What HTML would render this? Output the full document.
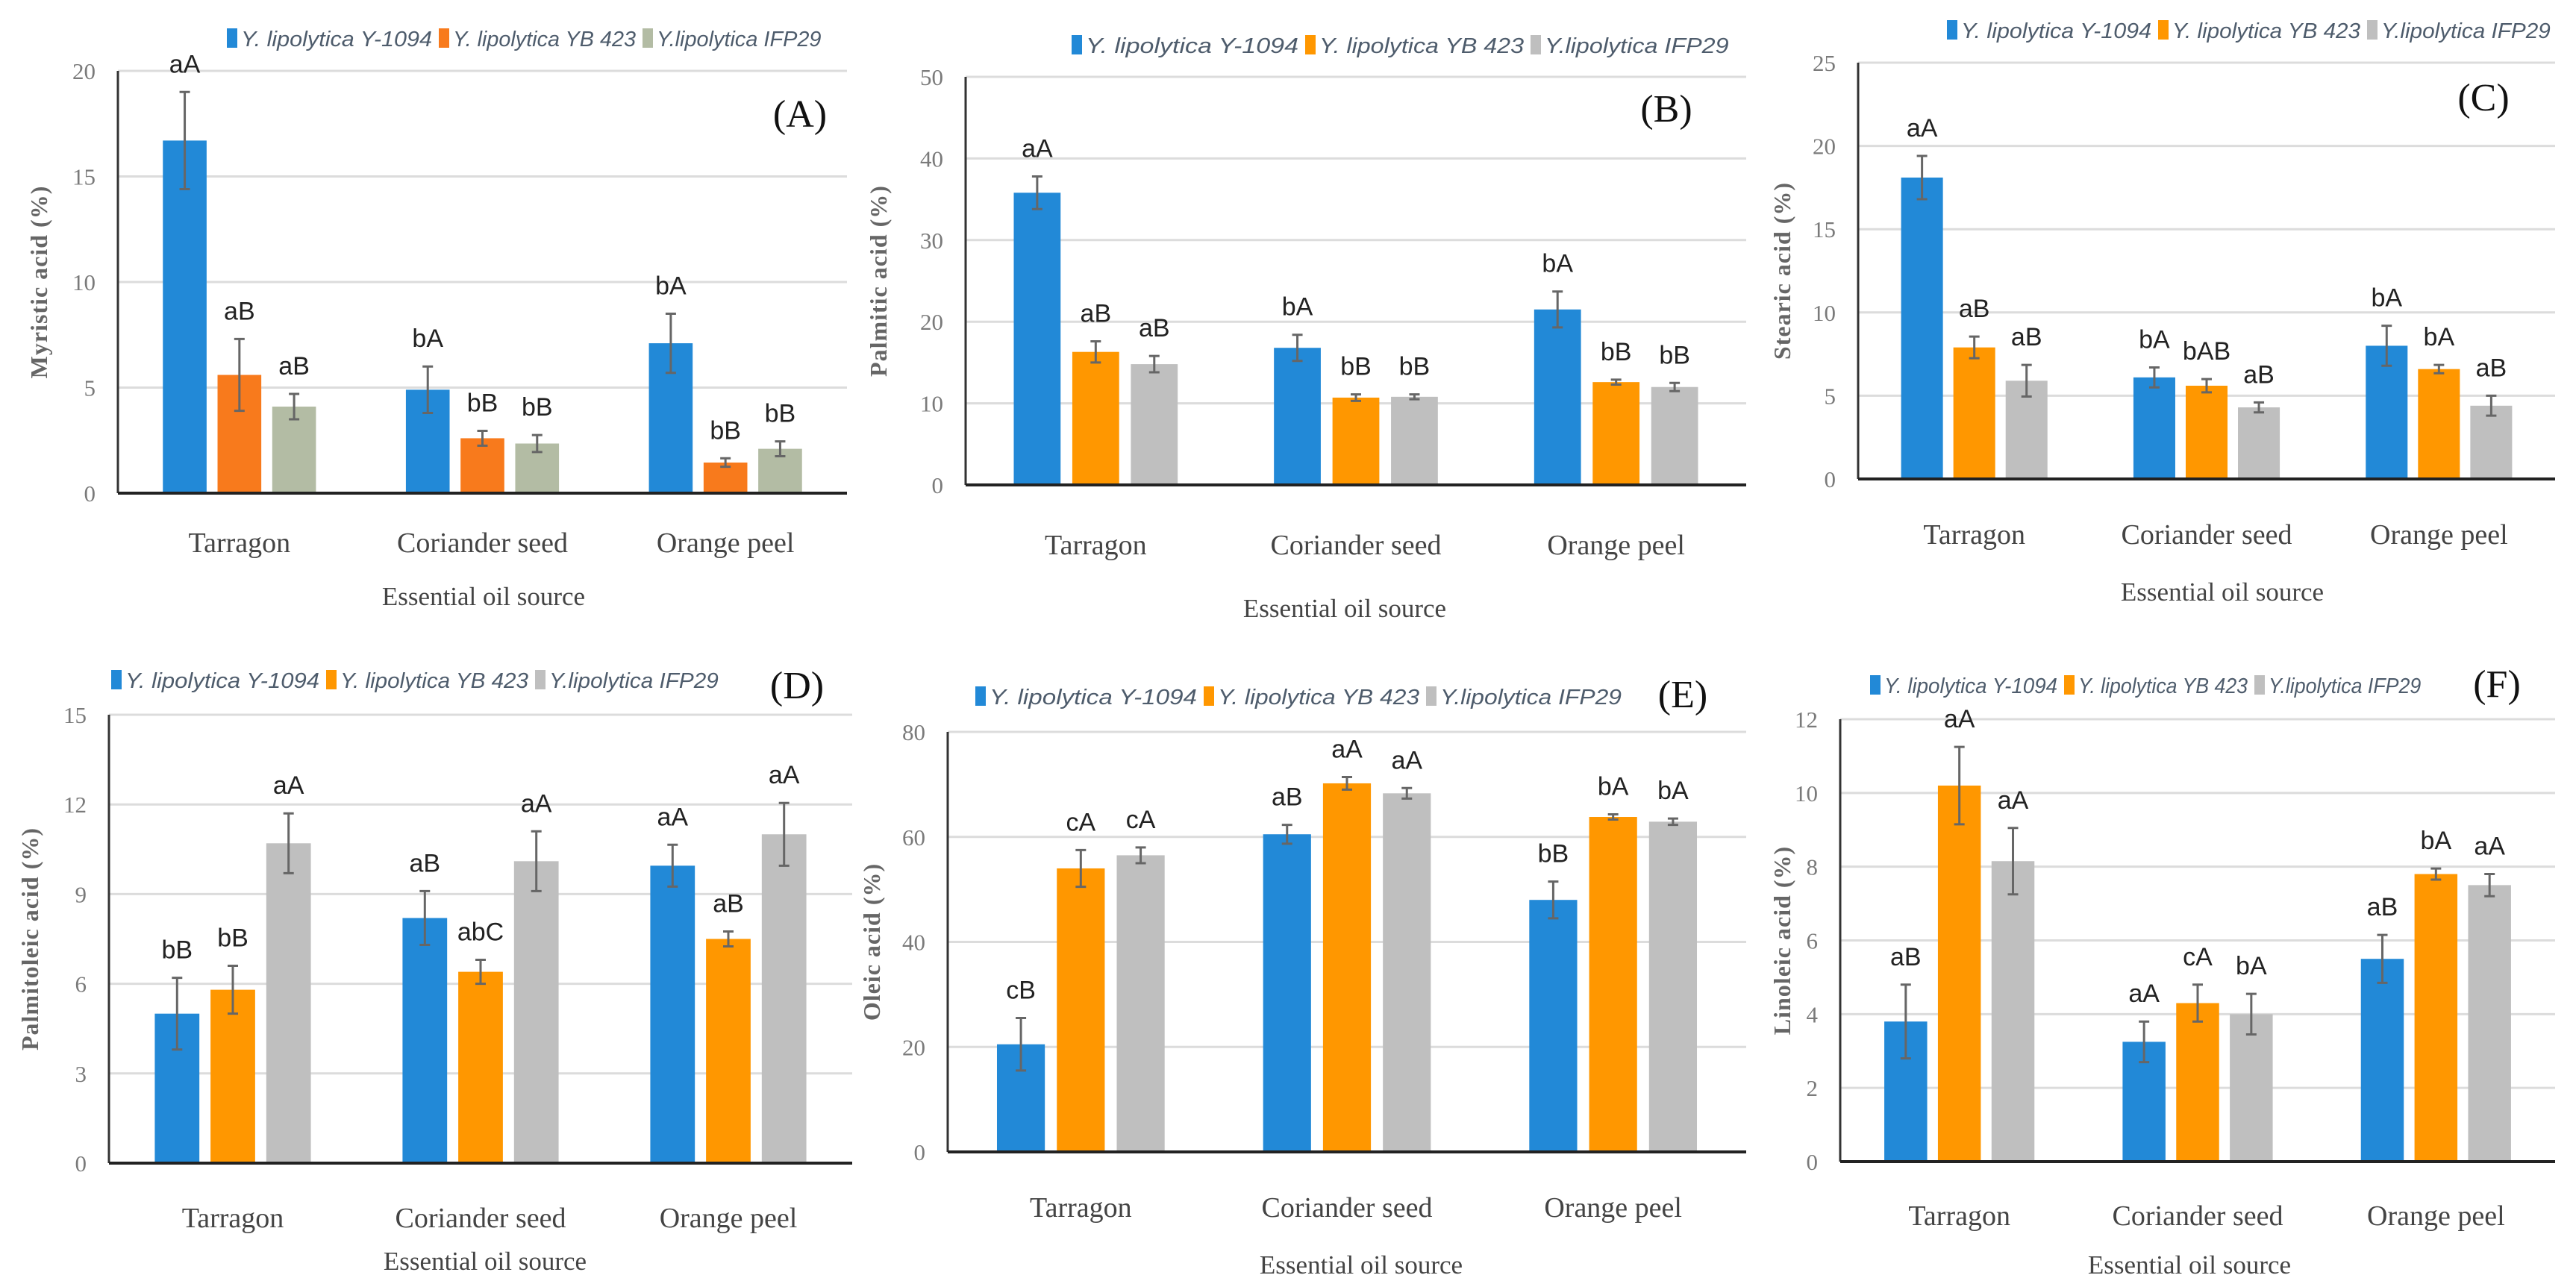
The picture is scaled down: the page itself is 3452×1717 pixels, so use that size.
<!DOCTYPE html>
<html><head><meta charset="utf-8">
<style>
html,body{margin:0;padding:0;background:#fff;}
svg{display:block;}
.tick{font-family:"Liberation Serif",serif;font-size:31px;fill:#7a7a7a;}
.cat{font-family:"Liberation Serif",serif;font-size:38px;fill:#444;}
.xt{font-family:"Liberation Serif",serif;font-size:35px;fill:#444;}
.yt{font-family:"Liberation Serif",serif;font-size:32px;fill:#666;font-weight:bold;letter-spacing:1px;}
.lab{font-family:"Liberation Sans",sans-serif;font-size:34px;fill:#222;}
.leg{font-family:"Liberation Sans",sans-serif;font-size:29px;font-style:italic;fill:#4e5c6c;}
.pl{font-family:"Liberation Serif",serif;font-size:52px;fill:#111;}
</style></head>
<body>
<svg id="fig" width="3452" height="1717" viewBox="0 0 3452 1717" xmlns="http://www.w3.org/2000/svg"></svg>
<script>
const categories = ["Tarragon","Coriander seed","Orange peel"];
const seriesNames = ["Y. lipolytica  Y-1094","Y. lipolytica YB 423","Y.lipolytica IFP29"];

const aY1094 = [16.7, 4.9, 7.1];
const aYB423 = [5.6, 2.6, 1.45];
const aIFP29 = [4.1, 2.35, 2.1];
const aErr = [[2.3,1.1,1.4],[1.7,0.35,0.2],[0.6,0.4,0.35]];
const aLabels = [["aA","bA","bA"],["aB","bB","bB"],["aB","bB","bB"]];
const aTicks = [0,5,10,15,20];

const bY1094 = [35.8, 16.8, 21.5];
const bYB423 = [16.3, 10.7, 12.6];
const bIFP29 = [14.8, 10.8, 12.0];
const bErr = [[2,1.6,2.2],[1.3,0.4,0.3],[1,0.3,0.5]];
const bLabels = [["aA","bA","bA"],["aB","bB","bB"],["aB","bB","bB"]];
const bTicks = [0,10,20,30,40,50];

const cY1094 = [18.1, 6.1, 8.0];
const cYB423 = [7.9, 5.6, 6.6];
const cIFP29 = [5.9, 4.3, 4.4];
const cErr = [[1.3,0.6,1.2],[0.65,0.4,0.25],[0.95,0.3,0.6]];
const cLabels = [["aA","bA","bA"],["aB","bAB","bA"],["aB","aB","aB"]];
const cTicks = [0,5,10,15,20,25];

const dY1094 = [5.0, 8.2, 9.95];
const dYB423 = [5.8, 6.4, 7.5];
const dIFP29 = [10.7, 10.1, 11.0];
const dErr = [[1.2,0.9,0.7],[0.8,0.4,0.25],[1.0,1.0,1.05]];
const dLabels = [["bB","aB","aA"],["bB","abC","aB"],["aA","aA","aA"]];
const dTicks = [0,3,6,9,12,15];

const eY1094 = [20.5, 60.5, 48.0];
const eYB423 = [54.0, 70.2, 63.8];
const eIFP29 = [56.5, 68.3, 62.9];
const eErr = [[5,1.8,3.5],[3.5,1.2,0.5],[1.5,1,0.6]];
const eLabels = [["cB","aB","bB"],["cA","aA","bA"],["cA","aA","bA"]];
const eTicks = [0,20,40,60,80];

const fY1094 = [3.8, 3.25, 5.5];
const fYB423 = [10.2, 4.3, 7.8];
const fIFP29 = [8.15, 4.0, 7.5];
const fErr = [[1.0,0.55,0.65],[1.05,0.5,0.15],[0.9,0.55,0.3]];
const fLabels = [["aB","aA","aB"],["aA","cA","bA"],["aA","bA","aA"]];
const fTicks = [0,2,4,6,8,10,12];

const NS="http://www.w3.org/2000/svg";
const svg=document.getElementById('fig');
function mk(tag,attrs,parent){const e=document.createElementNS(NS,tag);for(const k in attrs)e.setAttribute(k,attrs[k]);(parent||svg).appendChild(e);return e;}
function txt(s,attrs,parent){const e=mk('text',attrs,parent);e.textContent=s;return e;}

const panels=[
 {id:'a',letter:'(A)',ytitle:'Myristic acid (%)',series:[aY1094,aYB423,aIFP29],err:aErr,labels:aLabels,ticks:aTicks,
  x0:158,x1:1135,y0:661,yTop:95,colors:['#2289d7','#f87a1c','#b3bca4'],legY:52,legX:[313,597,870],catY:727,titleY:799,titleX:648,ytX:52,pX:1072,pY:170},
 {id:'b',letter:'(B)',ytitle:'Palmitic  acid (%)',series:[bY1094,bYB423,bIFP29],err:bErr,labels:bLabels,ticks:bTicks,
  x0:1294,x1:2340,y0:650,yTop:103,colors:['#2289d7','#ff9700','#bfbfbf'],legY:61,legX:[1445,1758,2060],catY:730,titleY:815,titleX:1802,ytX:1177,pX:2233,pY:163},
 {id:'c',letter:'(C)',ytitle:'Stearic acid (%)',series:[cY1094,cYB423,cIFP29],err:cErr,labels:cLabels,ticks:cTicks,
  x0:2490,x1:3424,y0:642,yTop:84,colors:['#2289d7','#ff9700','#bfbfbf'],legY:41,legX:[2618,2901,3181],catY:716,titleY:793,titleX:2978,ytX:2388,pX:3328,pY:148},
 {id:'d',letter:'(D)',ytitle:'Palmitoleic  acid (%)',series:[dY1094,dYB423,dIFP29],err:dErr,labels:dLabels,ticks:dTicks,
  x0:146,x1:1142,y0:1559,yTop:958,colors:['#2289d7','#ff9700','#bfbfbf'],legY:912,legX:[158,446,726],catY:1632,titleY:1690,titleX:650,ytX:40,pX:1068,pY:936},
 {id:'e',letter:'(E)',ytitle:'Oleic acid (%)',series:[eY1094,eYB423,eIFP29],err:eErr,labels:eLabels,ticks:eTicks,
  x0:1270,x1:2340,y0:1544,yTop:981,colors:['#2289d7','#ff9700','#bfbfbf'],legY:934,legX:[1316,1622,1920],catY:1618,titleY:1695,titleX:1824,ytX:1168,pX:2255,pY:948},
 {id:'f',letter:'(F)',ytitle:'Linoleic acid (%)',series:[fY1094,fYB423,fIFP29],err:fErr,labels:fLabels,ticks:fTicks,
  x0:2466,x1:3424,y0:1557,yTop:964,colors:['#2289d7','#ff9700','#bfbfbf'],legY:919,legX:[2515,2775,3030],catY:1629,titleY:1695,titleX:2934,ytX:2388,pX:3346,pY:934}
];

panels.forEach(p=>{
  const g=mk('g',{});
  
  
  const tmax=p.ticks[p.ticks.length-1];
  const yS=v=>p.y0-(v/tmax)*(p.y0-p.yTop);
  const gw=(p.x1-p.x0)/categories.length;
  const xC=i=>p.x0+gw*(i+0.5);
  const bw=gw*0.18, off=gw*0.225;
  p.ticks.forEach(t=>{
    if(t>0){const l=mk('line',{x1:p.x0,x2:p.x1,y1:yS(t),y2:yS(t),stroke:'#dcdcdc','stroke-width':3},g);
      }
    const tl=txt(String(t),{x:p.x0-30,y:yS(t)+11,'text-anchor':'end',class:'tick'},g);
    
  });
  p.series.forEach((vals,s)=>{
    vals.forEach((v,i)=>{
      const cx=xC(i)+(s-1)*off;
      const r=mk('rect',{x:cx-bw/2,y:yS(v),width:bw,height:p.y0-yS(v),fill:p.colors[s]},g);
      
      
      const e=p.err[s][i];
      const et=yS(v+e), eb=yS(Math.max(0,v-e));
      const el=mk('path',{d:`M${cx},${et}V${eb}M${cx-7},${et}H${cx+7}M${cx-7},${eb}H${cx+7}`,stroke:'#666','stroke-width':3,fill:'none'},g);
      
      
      const lb=txt(p.labels[s][i],{x:cx,y:et-26,'text-anchor':'middle',class:'lab'},g);
      
      
    });
  });
  const ya=mk('line',{x1:p.x0,x2:p.x0,y1:p.yTop,y2:p.y0,stroke:'#333','stroke-width':3},g);
  
  const xa=mk('line',{x1:p.x0,x2:p.x1,y1:p.y0,y2:p.y0,stroke:'#222','stroke-width':4},g);
  
  categories.forEach((c,i)=>{
    const t=txt(c,{x:xC(i),y:p.catY+13,'text-anchor':'middle',class:'cat'},g);
    
  });
  const xt=txt('Essential oil source',{x:p.titleX,y:p.titleY+12,'text-anchor':'middle',class:'xt'},g);
  
  const ym=(p.yTop+p.y0)/2;
  const yt=txt(p.ytitle,{x:p.ytX,y:ym,'text-anchor':'middle',class:'yt',transform:`rotate(-90 ${p.ytX} ${ym})`,dy:11},g);
  
  const pl=txt(p.letter,{x:p.pX,y:p.pY,'text-anchor':'middle',class:'pl'},g);
  
  const sp1=p.legX[1]-p.legX[0], sp2=p.legX[2]-p.legX[1];
  const lens=[sp1-28, sp2-28, (sp2-28)*0.9];
  seriesNames.forEach((n,s)=>{
    const lx=p.legX[s];
    const sq=mk('rect',{x:lx-9,y:p.legY-14,width:14,height:26,fill:p.colors[s]},g);
    
    const lt=txt(n,{x:lx+10,y:p.legY+10,class:'leg',textLength:lens[s],lengthAdjust:'spacingAndGlyphs'},g);
    
  });
});
</script>
</body></html>
